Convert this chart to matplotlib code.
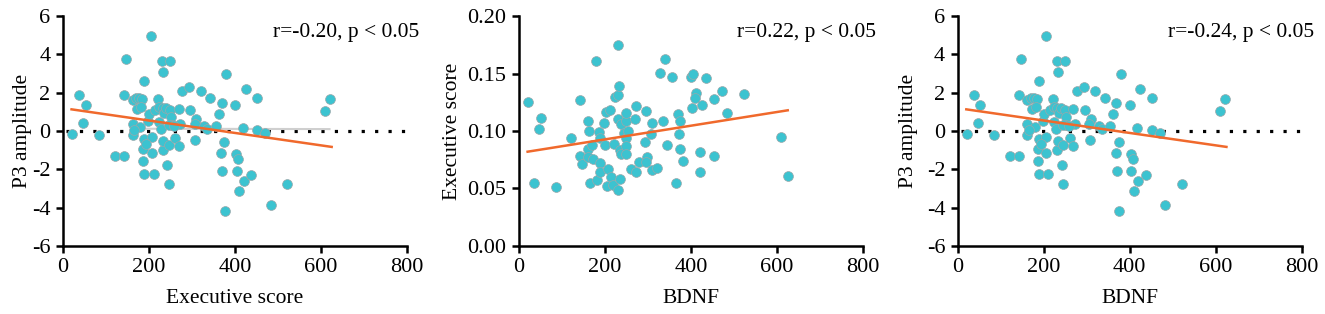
import numpy as np
import matplotlib.pyplot as plt

plt.rcParams['font.family'] = ['Liberation Serif', 'DejaVu Serif']

# P3 amplitude vs BDNF (same points shown in panels 1 and 3)
bdnf = [21, 37, 47, 53, 85, 122, 142, 142, 147, 205, 189, 231, 249, 233, 380,
        278, 294, 320, 342, 369, 400, 425, 451, 610, 622, 221, 162, 170, 178,
        185, 172, 182, 162, 162, 179, 189, 198, 206, 201, 187, 194, 187, 206,
        189, 211, 214, 223, 224, 229, 232, 236, 240, 232, 233, 243, 246, 246,
        249, 251, 253, 246, 260, 269, 269, 273, 295, 309, 308, 306, 328, 336,
        355, 362, 374, 367, 370, 376, 402, 407, 404, 410, 420, 437, 418, 452,
        471, 483, 522, 166, 258]
p3 = [-0.14, 1.86, 0.42, 1.34, -0.19, -1.32, -1.32, 1.88, 3.74, 4.94, 2.63,
      3.67, 3.63, 3.08, 2.96, 2.09, 2.30, 2.10, 1.72, 1.46, 1.34, 2.19, 1.70,
      1.06, 1.69, 1.69, 1.62, 1.70, 1.72, 1.66, 1.15, 1.25, 0.38, -0.19, 0.21,
      -0.42, 0.52, -0.33, 0.90, -0.96, -0.68, -1.55, -1.17, -2.26, -2.26, 1.08,
      0.47, 1.25, 0.12, 1.22, 0.95, 1.20, -1.01, -0.52, -1.77, -2.77, -0.73,
      1.11, 0.75, 0.30, 0.31, -0.35, -0.78, 1.15, 0.38, 1.08, 0.64, -0.45,
      0.38, 0.28, 0.12, 0.26, 0.89, -0.59, -1.15, -2.07, -4.19, -1.20, -1.44,
      -2.07, -3.15, -2.63, -2.30, 0.16, 0.07, -0.10, -3.86, -2.77, 0.05, 0.28]

# Executive score vs BDNF
bdnf2 = [20, 36, 46, 52, 85, 122, 142, 143, 147, 161, 162, 161, 161, 164, 170,
         173, 179, 181, 187, 189, 189, 189, 198, 202, 200, 204, 206, 212, 213,
         218, 220, 223, 230, 233, 230, 230, 234, 234, 230, 237, 238, 244, 248,
         250, 248, 250, 250, 253, 261, 269, 271, 272, 280, 293, 296, 297, 296,
         307, 309, 310, 322, 329, 334, 339, 344, 355, 364, 369, 371, 375, 375,
         382, 400, 404, 403, 412, 410, 420, 421, 426, 436, 453, 454, 472, 483,
         523, 610, 625]
exec_score = [0.1255, 0.0548, 0.1014, 0.1113, 0.0516, 0.0939, 0.1267, 0.0780,
              0.0716, 0.1084, 0.1003, 0.0846, 0.0771, 0.0545, 0.0878, 0.0759,
              0.1606, 0.0577, 0.0988, 0.0942, 0.0725, 0.0646, 0.1070, 0.1165,
              0.0878, 0.0525, 0.0667, 0.1180, 0.0600, 0.0530, 0.0884, 0.1296,
              0.1313, 0.1388, 0.1745, 0.1104, 0.0838, 0.0583, 0.0490, 0.0800,
              0.1060, 0.0983, 0.1084, 0.1160, 0.0940, 0.0870, 0.0803, 0.1000,
              0.0667, 0.1101, 0.1214, 0.0643, 0.0733, 0.0904, 0.1171, 0.0774,
              0.0733, 0.0971, 0.1070, 0.0658, 0.0681, 0.1504, 0.1087, 0.1623,
              0.0881, 0.1467, 0.0545, 0.1148, 0.0971, 0.1084, 0.0843, 0.0736,
              0.1467, 0.1499, 0.1200, 0.1328, 0.1290, 0.0820, 0.0640, 0.1229,
              0.1458, 0.0780, 0.1278, 0.1345, 0.1154, 0.1319, 0.0951, 0.0609]

# fitted lines (end points)
fit_x = [20, 625]
fit_p3 = [1.13, -0.83]
fit_exec = [0.082, 0.118]
ghost_x = [160, 620]
ghost_y = [0.12, 0.10]

panels = [
    dict(x=bdnf, y=p3, fit=fit_p3, xlabel='Executive score', ylabel='P3 amplitude',
         ylim=(-6, 6), yticks=np.arange(-6, 7, 2), fmt='{:.0f}',
         note='r=-0.20, p < 0.05', zero=True, ghost=True, left=0.0475, ypad=0),
    dict(x=bdnf2, y=exec_score, fit=fit_exec, xlabel='BDNF', ylabel='Executive score',
         ylim=(0, 0.20), yticks=np.arange(0, 0.21, 0.05), fmt='{:.2f}',
         note='r=0.22, p < 0.05', zero=False, ghost=False, left=0.3917, ypad=4),
    dict(x=bdnf, y=p3, fit=fit_p3, xlabel='BDNF', ylabel='P3 amplitude',
         ylim=(-6, 6), yticks=np.arange(-6, 7, 2), fmt='{:.0f}',
         note='r=-0.24, p < 0.05', zero=True, ghost=False, left=0.7228, ypad=6),
]

fig = plt.figure(figsize=(13.25, 3.14), dpi=100)

for p in panels:
    ax = fig.add_axes([p['left'], 0.2166, 0.2596, 0.7324])
    if p['zero']:
        ax.plot([8, 800], [0, 0], color='black', lw=2.3, linestyle=(0, (1, 3.2)), zorder=1)
    if p['ghost']:
        ax.plot(ghost_x, ghost_y, color='#cfcfcf', lw=1.5, zorder=1)
    ax.scatter(p['x'], p['y'], s=50, color='#3cc3d0', edgecolors='#9aa8aa',
               linewidths=0.5, zorder=2, clip_on=False)
    ax.plot(fit_x, p['fit'], color='#f0692c', lw=1.8, zorder=3)

    ax.set_xlim(0, 800)
    ax.set_ylim(*p['ylim'])
    ax.set_xticks([0, 200, 400, 600, 800])
    ax.set_yticks(p['yticks'])
    ax.set_yticklabels([p['fmt'].format(v) for v in p['yticks']])
    ax.spines['top'].set_visible(False)
    ax.spines['right'].set_visible(False)
    ax.spines['left'].set_linewidth(1.8)
    ax.spines['bottom'].set_linewidth(1.8)
    ax.tick_params(direction='out', length=5, width=1.8, labelsize=16, pad=4)
    ax.set_xlabel(p['xlabel'], fontsize=15.5, labelpad=8)
    ax.set_ylabel(p['ylabel'], fontsize=15.5, labelpad=p['ypad'])
    ax.text(1.037, 0.93, p['note'], transform=ax.transAxes, ha='right', va='center',
            fontsize=15.5)

fig.savefig('out.png', dpi=100)
